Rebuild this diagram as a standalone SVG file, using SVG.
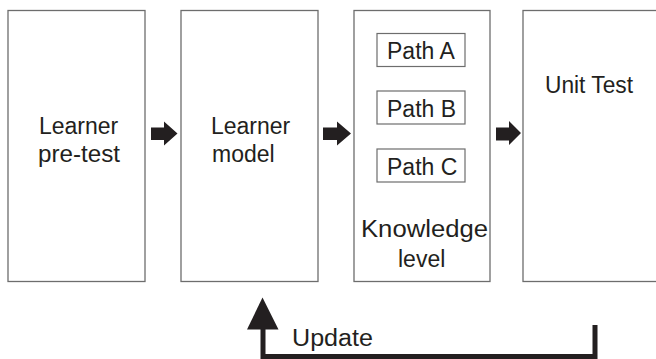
<svg xmlns="http://www.w3.org/2000/svg" width="656" height="359" viewBox="0 0 656 359">
<style>
.box{fill:#fff;stroke:#6d6d6d;stroke-width:1.3}
.sub{fill:#fff;stroke:#6d6d6d;stroke-width:1.2}
.t{font-family:"Liberation Sans",Arial,sans-serif;font-size:23px;fill:#231f20}
.arr{fill:#231f20}
.line{fill:none;stroke:#231f20;stroke-width:5}
</style>
<g id="pretest">
<rect class="box" x="8" y="10.5" width="137" height="271"/>
<text class="t" x="39" y="134">Learner</text>
<text class="t" x="38" y="162" textLength="82" lengthAdjust="spacingAndGlyphs">pre-test</text>
</g>
<g id="model">
<rect class="box" x="181" y="10.5" width="137" height="271"/>
<text class="t" x="211" y="134">Learner</text>
<text class="t" x="212" y="162">model</text>
</g>
<g id="knowledge">
<rect class="box" x="354" y="10.5" width="136" height="271"/>
<g id="pathA"><rect class="sub" x="377" y="33.5" width="88" height="33"/><text class="t" x="387" y="58.5">Path A</text></g>
<g id="pathB"><rect class="sub" x="377" y="91" width="88" height="33"/><text class="t" x="387" y="116.5">Path B</text></g>
<g id="pathC"><rect class="sub" x="377" y="149" width="88" height="33"/><text class="t" x="387" y="174.5">Path C</text></g>
<text class="t" x="361" y="237" textLength="127" lengthAdjust="spacingAndGlyphs">Knowledge</text>
<text class="t" x="398" y="267">level</text>
</g>
<g id="unittest">
<rect class="box" x="523" y="10.5" width="140" height="271"/>
<text class="t" x="545" y="93" textLength="88" lengthAdjust="spacingAndGlyphs">Unit Test</text>
</g>
<g id="connectors">
<polygon class="arr" points="151,127.5 164,127.5 164,121.5 177.5,133.5 164,145.5 164,140 151,140"/>
<polygon class="arr" points="323,127.5 337,127.5 337,121.5 351,133.5 337,145.5 337,140 323,140"/>
<polygon class="arr" points="496,127.5 509,127.5 509,121 521,133 509,145 509,140.5 496,140.5"/>
<path class="line" d="M595 325 V356.5 H263 V328"/>
<polygon class="arr" points="247,329.5 278.5,329.5 262.5,297.5"/>
<text class="t" x="292" y="345.5" textLength="81" lengthAdjust="spacingAndGlyphs">Update</text>
</g>
</svg>
